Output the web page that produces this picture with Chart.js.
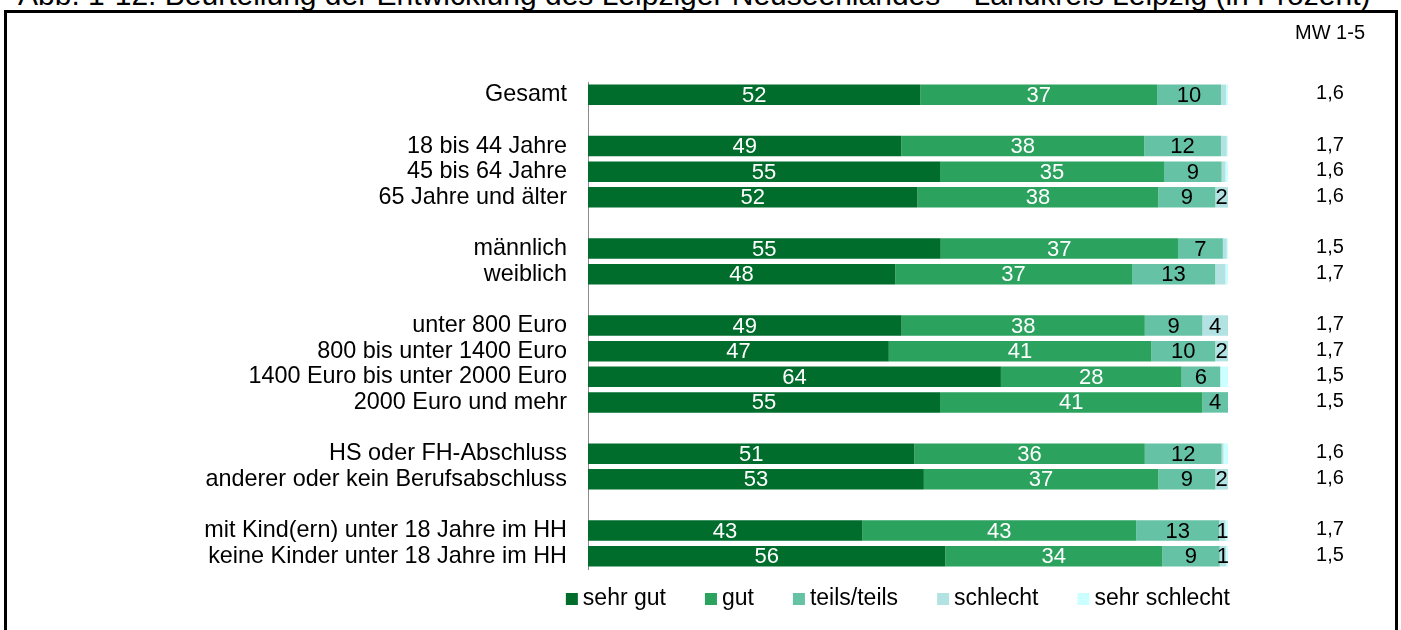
<!DOCTYPE html>
<html>
<head>
<meta charset="utf-8">
<script src="https://cdn.jsdelivr.net/npm/chart.js@4.4.1/dist/chart.umd.min.js"></script>
<style>
  html, body { margin: 0; padding: 0; background: #fff; width: 1401px; height: 630px; overflow: hidden; }
  #title { position: absolute; left: 18px; top: -20px; font: 30px/1 "Liberation Sans", Arial, sans-serif; color: #000; white-space: nowrap; }
  #frame { position: absolute; left: 4px; top: 10px; width: 1388px; height: 660px; border: 3px solid #000; }
  #chart { position: absolute; left: 0; top: 0; }
</style>
</head>
<body>
<div id="title">Abb. 1-12: Beurteilung der Entwicklung des Leipziger Neuseenlandes – Landkreis Leipzig (in Prozent)</div>
<div id="frame"></div>
<canvas id="chart" width="1401" height="630"></canvas>
<script>
// Row labels; empty strings are spacer rows between the groups
const categories = [
  'Gesamt', '',
  '18 bis 44 Jahre', '45 bis 64 Jahre', '65 Jahre und älter', '',
  'männlich', 'weiblich', '',
  'unter 800 Euro', '800 bis unter 1400 Euro', '1400 Euro bis unter 2000 Euro', '2000 Euro und mehr', '',
  'HS oder FH-Abschluss', 'anderer oder kein Berufsabschluss', '',
  'mit Kind(ern) unter 18 Jahre im HH', 'keine Kinder unter 18 Jahre im HH'
];

const seriesNames = ['sehr gut', 'gut', 'teils/teils', 'schlecht', 'sehr schlecht'];

// Percent answers per row (null = spacer). Whole numbers are printed on the bar;
// fractional values are small unlabeled slivers.
const sehrGut      = [52, null, 49, 55, 52, null, 55, 48, null, 49, 47, 64, 55, null, 51, 53, null, 43, 56];
const gut          = [37, null, 38, 35, 38, null, 37, 37, null, 38, 41, 28, 41, null, 36, 37, null, 43, 34];
const teils        = [10, null, 12,  9,  9, null,  7, 13, null,  9, 10,  6,  4, null, 12,  9, null, 13,  9];
const schlecht     = [0.8, null, 0.9, 0.6, 2, null, 0.6, 1.6, null, 4, 2, 0, 0, null, 0.3, 2, null, 1, 1];
const sehrSchlecht = [0.3, null, 0.2, 0.4, 0, null, 0.2, 0.4, null, 0, 0, 1.2, 0, null, 0.7, 0, null, 0.4, 0.3];

// Mean score on the 1-5 scale
const meanLabel = 'MW 1-5';
const meanValues = ['1,6', null, '1,7', '1,6', '1,6', null, '1,5', '1,7', null, '1,7', '1,7', '1,5', '1,5', null, '1,6', '1,6', null, '1,7', '1,5'];

const series = [sehrGut, gut, teils, schlecht, sehrSchlecht];
const colors = ['#006D2C', '#2CA25F', '#66C2A4', '#B2E2E2', '#CCFFFF'];
const labelColors = ['#FFFFFF', '#FFFFFF', '#000000', '#000000', '#000000'];

const FONT = '"Liberation Sans", Arial, sans-serif';

// 100 % stacking: each row is scaled to its own total
const rowTotals = categories.map((_, i) =>
  series.reduce((s, arr) => s + (arr[i] == null ? 0 : arr[i]), 0));

const datasets = series.map((arr, k) => ({
  label: seriesNames[k],
  raw: arr,
  labelColor: labelColors[k],
  data: arr.map((v, i) => (v == null ? null : v / rowTotals[i] * 100)),
  backgroundColor: colors[k],
  borderWidth: 0,
  barPercentage: 0.8,
  categoryPercentage: 1.0
}));

// Numbers printed in the middle of each labeled segment
const segmentLabels = {
  id: 'segmentLabels',
  afterDatasetsDraw(chart) {
    const ctx = chart.ctx;
    ctx.save();
    ctx.font = '22px ' + FONT;
    ctx.textAlign = 'center';
    ctx.textBaseline = 'middle';
    chart.data.datasets.forEach((ds, di) => {
      chart.getDatasetMeta(di).data.forEach((bar, i) => {
        const v = ds.raw[i];
        if (v == null || v <= 0 || !Number.isInteger(v)) return;
        const p = bar.getProps(['x', 'base', 'y'], true);
        ctx.fillStyle = ds.labelColor;
        ctx.fillText(String(v), (p.x + p.base) / 2, p.y + 1);
      });
    });
    ctx.restore();
  }
};

// Mean-score column to the right of the bars
const meanColumn = {
  id: 'meanColumn',
  afterDraw(chart) {
    const ctx = chart.ctx;
    const yScale = chart.scales.y;
    const x = chart.chartArea.right + 102;
    ctx.save();
    ctx.font = '20px ' + FONT;
    ctx.fillStyle = '#000';
    ctx.textAlign = 'center';
    ctx.textBaseline = 'middle';
    ctx.fillText(meanLabel, x, 33);
    meanValues.forEach((t, i) => {
      if (t == null) return;
      ctx.fillText(t, x, yScale.getPixelForValue(i) - 1);
    });
    ctx.restore();
  }
};

// Legend row under the bars, right edge aligned with the 100 % end
const legendRow = {
  id: 'legendRow',
  afterDraw(chart) {
    const ctx = chart.ctx;
    const box = 12, gapText = 5, gapItem = 39;
    ctx.save();
    ctx.font = '23px ' + FONT;
    ctx.textBaseline = 'middle';
    ctx.textAlign = 'left';
    const items = chart.data.datasets.map(ds => ({
      text: ds.label, color: ds.backgroundColor, w: ctx.measureText(ds.label).width
    }));
    const total = items.reduce((s, it) => s + box + gapText + it.w, 0) + gapItem * (items.length - 1);
    let x = chart.chartArea.right + 2 - total;
    const y = chart.chartArea.bottom + 30;
    items.forEach(it => {
      ctx.fillStyle = it.color;
      ctx.fillRect(x, y - box / 2, box, box);
      ctx.fillStyle = '#000';
      ctx.fillText(it.text, x + box + gapText, y);
      x += box + gapText + it.w + gapItem;
    });
    ctx.restore();
  }
};

new Chart(document.getElementById('chart'), {
  type: 'bar',
  data: { labels: categories, datasets },
  plugins: [segmentLabels, meanColumn, legendRow],
  options: {
    indexAxis: 'y',
    responsive: false,
    devicePixelRatio: 1,
    animation: false,
    layout: { padding: { left: 0, right: 173, top: 82, bottom: 61 } },
    plugins: {
      legend: { display: false },
      tooltip: { enabled: false },
      title: { display: false }
    },
    scales: {
      x: { stacked: true, min: 0, max: 100, display: false },
      y: {
        stacked: true,
        grid: { display: false, drawTicks: false },
        border: { display: true, color: '#8C8C8C', width: 1 },
        ticks: { padding: 21, color: '#000', autoSkip: false, font: { size: 23.4, family: FONT } },
        afterFit(scale) { scale.width = 588; }
      }
    }
  }
});
</script>
</body>
</html>
